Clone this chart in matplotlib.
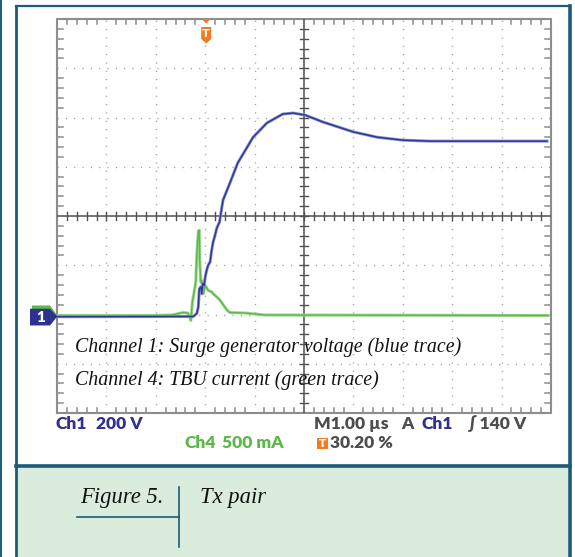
import numpy as np
import matplotlib
matplotlib.use("Agg")
import matplotlib.pyplot as plt
from matplotlib.patches import Rectangle, Polygon

W, H = 575, 557

# Ch1 trace (blue), time in us (1 us/div), amplitude in divisions
ch1_t = [0.0, 2.76, 2.83, 2.86, 2.88, 2.91, 2.93, 2.95, 2.98, 3.00, 3.03, 3.06,
         3.10, 3.13, 3.16, 3.20, 3.23, 3.29, 3.36, 3.50, 3.66, 3.97, 4.25, 4.57,
         4.78, 5.02, 5.38, 5.99, 6.48, 7.00, 7.55, 9.92]
ch1_v = [-2.045, -2.04, -1.98, -1.85, -1.48, -1.44, -1.58, -1.37, -1.41, -1.24,
         -1.10, -1.00, -0.93, -0.70, -0.53, -0.39, -0.26, -0.12, 0.32, 0.67, 1.08,
         1.60, 1.89, 2.07, 2.09, 2.05, 1.91, 1.71, 1.60, 1.54, 1.52, 1.52]

# Ch4 trace (green)
ch4_t = [0.0, 1.88, 2.33, 2.55, 2.65, 2.71, 2.74, 2.77, 2.81, 2.83, 2.86, 2.88,
         2.89, 2.91, 2.93, 2.96, 3.00, 3.06, 3.13, 3.16, 3.23, 3.30, 3.37, 3.44,
         3.50, 3.81, 4.21, 9.94]
ch4_v = [-2.02, -2.02, -2.01, -1.96, -1.97, -2.12, -1.75, -1.58, -1.34, -0.79,
         -0.32, -0.29, -0.93, -1.34, -1.31, -1.58, -1.41, -1.51, -1.54, -1.58,
         -1.64, -1.71, -1.81, -1.91, -1.96, -1.97, -2.01, -2.02]

trigger_pct = 30.20
ch1_level = -2.04

BLUE = "#2d3a97"
BLUE_TXT = "#2e3192"
GREEN = "#5cb848"
ORANGE = "#f37a22"
GREY_TXT = "#4d4d4d"
FRAME = "#1b5a7a"
PANEL = "#daecdb"


def fx(x):
    return x / W


def fy(y):
    return 1 - y / H


fig = plt.figure(figsize=(W / 100, H / 100), dpi=100)
fig.patch.set_facecolor("white")

# frame and caption panel
fig.patches.append(Rectangle((fx(17), fy(H)), fx(568) - fx(17), fy(467) - fy(H),
                             transform=fig.transFigure, facecolor=PANEL, edgecolor="none"))
for xs, ys, lw in [([16, 16], [6, H], 2.0), ([16, 570], [6, 6], 1.6),
                   ([570, 570], [6, H], 2.6), ([16, 570], [466, 466], 2.6),
                   ([1, 1], [0, H], 1.4)]:
    fig.add_artist(plt.Line2D([fx(v) for v in xs], [fy(v) for v in ys],
                              transform=fig.transFigure, color=FRAME, lw=lw))

# scope graticule
ax = fig.add_axes([fx(57), fy(413), fx(551) - fx(57), fy(19) - fy(413)])
ax.set_xlim(0, 10)
ax.set_ylim(-4, 4)
ax.axis("off")

dot = dict(color="#9a9a9a", lw=1.0, linestyle=(0, (0.8, 5.2)))
for x in range(1, 10):
    if x != 5:
        ax.plot([x, x], [-4, 4], **dot)
for y in range(-3, 4):
    if y != 0:
        ax.plot([0, 10], [y, y], **dot)

edge = "#8c8c8c"
ax.plot([0, 10, 10, 0, 0], [-4, -4, 4, 4, -4], color=edge, lw=1.5, clip_on=False)
for i in range(1, 50):
    if i % 5:
        x = i / 5
        ax.plot([x, x], [4, 3.9], color=edge, lw=1.1)
        ax.plot([x, x], [-4, -3.9], color=edge, lw=1.1)
for j in range(1, 40):
    if j % 5:
        y = -4 + j / 5
        ax.plot([0, 0.12], [y, y], color=edge, lw=1.1)
        ax.plot([10, 9.88], [y, y], color=edge, lw=1.1)

ctr = "#505050"
ax.plot([0, 10], [0, 0], color=ctr, lw=1.1)
ax.plot([5, 5], [-4, 4], color=ctr, lw=1.1)
for i in range(1, 50):
    ax.plot([i / 5, i / 5], [-0.075, 0.075], color=ctr, lw=1.0)
for j in range(1, 40):
    ax.plot([4.925, 5.075], [-4 + j / 5, -4 + j / 5], color=ctr, lw=1.0)

# traces
ax.plot(ch4_t, ch4_v, color="#9fd68f", lw=2.2, solid_joinstyle="round")
ax.plot(ch4_t, ch4_v, color=GREEN, lw=1.0)
ax.plot(ch1_t, ch1_v, color="#8d96cf", lw=2.2, solid_joinstyle="round")
ax.plot(ch1_t, ch1_v, color=BLUE, lw=1.1)

serif = dict(family="Liberation Serif", style="italic", color="#111111")
ax.text(18 / 49.4, (216 - 347) / 49.25,
        "Channel 1: Surge generator voltage (blue trace)", fontsize=14.3,
        va="center", ha="left", **serif)
ax.text(18 / 49.4, (216 - 380) / 49.25,
        "Channel 4: TBU current (green trace)", fontsize=14.3,
        va="center", ha="left", **serif)

# trigger marker at top
tx = 57 + 494 * trigger_pct / 100
fig.patches.append(Polygon([(fx(tx - 4.5), fy(19)), (fx(tx + 4.5), fy(19)), (fx(tx), fy(23.5))],
                           closed=True, transform=fig.transFigure, facecolor=ORANGE, edgecolor="none"))
fig.patches.append(Polygon([(fx(tx - 5), fy(27)), (fx(tx + 5), fy(27)), (fx(tx + 5), fy(39)),
                            (fx(tx), fy(43.5)), (fx(tx - 5), fy(39))],
                           closed=True, transform=fig.transFigure, facecolor=ORANGE, edgecolor="none"))
fig.text(fx(tx), fy(34), "T", color="white", fontsize=8, fontweight="bold",
         family="DejaVu Sans", ha="center", va="center")

# channel ground markers at left
gy = 413 - (ch1_level + 4) * 49.25
fig.patches.append(Polygon([(fx(32), fy(gy - 11)), (fx(50), fy(gy - 11)), (fx(57), fy(gy - 1.5)),
                            (fx(50), fy(gy + 6)), (fx(32), fy(gy + 6))],
                           closed=True, transform=fig.transFigure, facecolor=GREEN, edgecolor="none"))
fig.patches.append(Polygon([(fx(30), fy(gy - 7.7)), (fx(50), fy(gy - 7.7)), (fx(57.3), fy(gy)),
                            (fx(50), fy(gy + 9)), (fx(30), fy(gy + 9))],
                           closed=True, transform=fig.transFigure, facecolor=BLUE_TXT, edgecolor="none"))
fig.text(fx(41), fy(gy + 0.8), "1", color="white", fontsize=11, fontweight="heavy",
         family="Lato", ha="center", va="center")

# readout labels
sans = ["Lato", "DejaVu Sans"]
lab = dict(fontsize=12.5, fontweight="heavy", va="center", ha="left", family=sans)
fig.text(fx(56), fy(424), "Ch1", color=BLUE_TXT, **lab)
fig.text(fx(96), fy(424), "200 V", color=BLUE_TXT, **lab)
fig.text(fx(185), fy(442.7), "Ch4", color=GREEN, **lab)
fig.text(fx(222), fy(442.7), "500 mA", color=GREEN, **lab)
fig.text(fx(314), fy(424), "M1.00 µs", color=GREY_TXT, **lab)
fig.text(fx(401), fy(424), "A", color=GREY_TXT, **lab)
fig.text(fx(421), fy(424), "Ch1", color=BLUE_TXT, **lab)
fig.text(fx(467), fy(424), "∫ 140 V", color=GREY_TXT, **lab)
fig.patches.append(Rectangle((fx(316.7), fy(449.3)), fx(11), fy(438.3) - fy(449.3),
                             transform=fig.transFigure, facecolor=ORANGE, edgecolor="none"))
fig.text(fx(322.2), fy(444), "T", color="white", fontsize=7.5, fontweight="bold",
         family="DejaVu Sans", ha="center", va="center")
fig.text(fx(330.5), fy(442.7), "30.20 %", color=GREY_TXT, **lab)

# caption
fig.text(fx(80), fy(498), "Figure 5.", fontsize=16.3, ha="left", va="center", **serif)
fig.text(fx(200), fy(498), "Tx pair", fontsize=16.3, ha="left", va="center", **serif)
fig.add_artist(plt.Line2D([fx(178.5), fx(178.5)], [fy(487), fy(547)],
                          transform=fig.transFigure, color=FRAME, lw=1.2))
fig.add_artist(plt.Line2D([fx(76.5), fx(178.5)], [fy(516.7), fy(516.7)],
                          transform=fig.transFigure, color=FRAME, lw=1.2))

fig.savefig("out.png", dpi=100)
